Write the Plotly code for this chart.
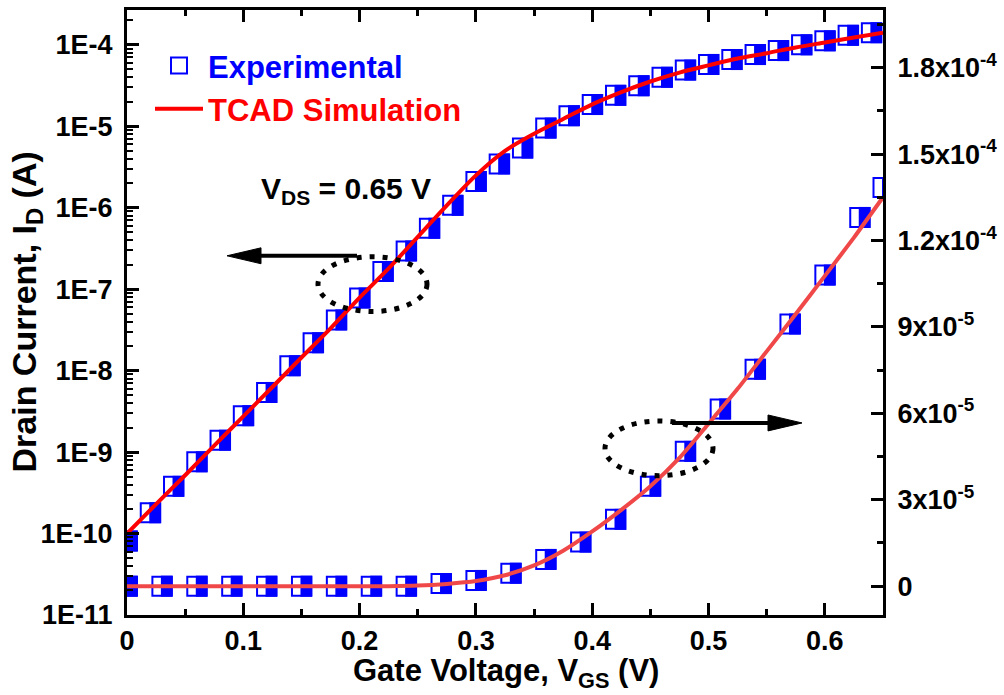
import plotly.graph_objects as go

# ---------------- data ----------------
VGS_EXP_LOG = [0.00, 0.02, 0.04, 0.06, 0.08, 0.10, 0.12, 0.14, 0.16, 0.18, 0.20,
               0.22, 0.24, 0.26, 0.28, 0.30, 0.32, 0.34, 0.36, 0.38, 0.40, 0.42,
               0.44, 0.46, 0.48, 0.50, 0.52, 0.54, 0.56, 0.58, 0.60, 0.62, 0.64]
ID_EXP_LOG = [8.1e-11, 1.8e-10, 3.8e-10, 7.6e-10, 1.4e-9, 2.8e-9, 5.4e-9, 1.15e-8,
              2.2e-8, 4.2e-8, 7.8e-8, 1.65e-7, 2.95e-7, 5.6e-7, 1.07e-6, 2.1e-6,
              3.45e-6, 5.4e-6, 9.5e-6, 1.35e-5, 1.85e-5, 2.4e-5, 3.15e-5, 4.0e-5,
              4.9e-5, 5.75e-5, 6.6e-5, 7.6e-5, 8.5e-5, 1.0e-4, 1.12e-4, 1.31e-4, 1.41e-4]

VGS_EXP_LIN = [0.00, 0.03, 0.06, 0.09, 0.12, 0.15, 0.18, 0.21, 0.24, 0.27, 0.30,
               0.33, 0.36, 0.39, 0.42, 0.45, 0.48, 0.51, 0.54, 0.57, 0.60, 0.63, 0.65]
ID_EXP_LIN = [0, 0, 0, 0, 0, 0, 0, 0, 0, 9e-7, 2.0e-6, 4.5e-6, 9.3e-6, 1.53e-5,
              2.32e-5, 3.47e-5, 4.68e-5, 6.15e-5, 7.53e-5, 9.1e-5, 1.08e-4, 1.28e-4, 1.384e-4]

VGS_SIM = [0.000, 0.025, 0.050, 0.075, 0.100, 0.125, 0.150, 0.175, 0.200, 0.225,
           0.250, 0.275, 0.300, 0.325, 0.350, 0.375, 0.400, 0.425, 0.450, 0.475,
           0.500, 0.525, 0.550, 0.575, 0.600, 0.625, 0.650]
ID_SIM_LOG = [1.0e-10, 2.3e-10, 5.2e-10, 1.2e-9, 2.75e-9, 6.3e-9, 1.45e-8, 3.3e-8,
              7.9e-8, 1.8e-7, 4.4e-7, 1.07e-6, 2.5e-6, 5.0e-6, 8.1e-6, 1.23e-5,
              1.86e-5, 2.63e-5, 3.55e-5, 4.57e-5, 5.6e-5, 6.8e-5, 7.9e-5, 9.3e-5,
              1.07e-4, 1.23e-4, 1.41e-4]
ID_SIM_LIN = [0, 0, 0, 0, 0, 0, 0, 0, 0, 0, 2e-7, 8e-7, 1.8e-6, 3.8e-6, 7.2e-6,
              1.23e-5, 1.9e-5, 2.65e-5, 3.47e-5, 4.45e-5, 5.64e-5, 6.85e-5, 8.15e-5,
              9.45e-5, 1.077e-4, 1.21e-4, 1.35e-4]

X_TICKS = [0, 0.1, 0.2, 0.3, 0.4, 0.5, 0.6]
X_TICKTEXT = ["0", "0.1", "0.2", "0.3", "0.4", "0.5", "0.6"]
Y_TICKS = [1e-11, 1e-10, 1e-9, 1e-8, 1e-7, 1e-6, 1e-5, 1e-4]
Y_TICKTEXT = ["1E-11", "1E-10", "1E-9", "1E-8", "1E-7", "1E-6", "1E-5", "1E-4"]
Y2_TICKS = [0, 3e-5, 6e-5, 9e-5, 1.2e-4, 1.5e-4, 1.8e-4]
Y2_TICKTEXT = ["0", "3x10<sup>-5</sup>", "6x10<sup>-5</sup>", "9x10<sup>-5</sup>",
               "1.2x10<sup>-4</sup>", "1.5x10<sup>-4</sup>", "1.8x10<sup>-4</sup>"]
Y2_MINOR = [1.5e-5, 4.5e-5, 7.5e-5, 1.05e-4, 1.35e-4, 1.65e-4, 1.95e-4]

# ---------------- style / layout ----------------
FONT = "Liberation Sans, Arial, Helvetica, sans-serif"
BLUE = "#0000ff"
RED = "#ff0000"
RED2 = "#f04848"
W, H = 1004, 695
L, R, T, B = 127, 121, 7, 80
PW, PH = W - L - R, H - T - B
X_RANGE = [0, 0.65]
Y_RANGE = [-11, -3.572]
Y2_RANGE = [-1.0e-5, 2.0e-4]
SHIFT = 5.0 / PW * (X_RANGE[1] - X_RANGE[0])


def px(x):
    return (x - L) / PW


def py(y):
    return (H - B - y) / PH


Y_MINOR = [k * 10.0 ** e for e in range(-11, -3) for k in range(2, 10)]

sq_marker = dict(symbol="square-open", size=19, color=BLUE, line=dict(width=2, color=BLUE))
half_marker = dict(symbol="line-ns-open", size=15, color=BLUE, line=dict(width=12, color=BLUE))

fig = go.Figure()
fig.add_trace(go.Scatter(x=VGS_EXP_LOG, y=ID_EXP_LOG, mode="markers", xaxis="x", yaxis="y",
                         name='<span style="color:#0000ff">Experimental</span>', marker=sq_marker))
fig.add_trace(go.Scatter(x=VGS_EXP_LIN, y=ID_EXP_LIN, mode="markers", xaxis="x", yaxis="y2",
                         showlegend=False, marker=sq_marker))
fig.add_trace(go.Scatter(x=VGS_EXP_LOG, y=ID_EXP_LOG, mode="markers", xaxis="x2", yaxis="y",
                         showlegend=False, marker=half_marker))
fig.add_trace(go.Scatter(x=VGS_EXP_LIN, y=ID_EXP_LIN, mode="markers", xaxis="x2", yaxis="y2",
                         showlegend=False, marker=half_marker))
fig.add_trace(go.Scatter(x=VGS_SIM, y=ID_SIM_LOG, mode="lines", xaxis="x3", yaxis="y",
                         name='<span style="color:#ff0000">TCAD Simulation</span>',
                         line=dict(color=RED, width=4, shape="spline", smoothing=0.8)))
fig.add_trace(go.Scatter(x=VGS_SIM, y=ID_SIM_LIN, mode="lines", xaxis="x3", yaxis="y2",
                         showlegend=False,
                         line=dict(color=RED2, width=4, shape="spline", smoothing=0.6)))

tickfont = dict(family=FONT, size=27, color="black", weight="bold")
common = dict(showline=True, linecolor="black", linewidth=3, ticks="inside", ticklen=12,
              tickwidth=3, tickcolor="black", showgrid=False, zeroline=False, tickfont=tickfont)

fig.update_layout(
    width=W, height=H, autosize=False,
    margin=dict(l=L, r=R, t=T, b=B, pad=0),
    paper_bgcolor="white", plot_bgcolor="white",
    xaxis=dict(range=X_RANGE, tickmode="array", tickvals=X_TICKS, ticktext=X_TICKTEXT,
               mirror="ticks", anchor="y",
               minor=dict(ticks="inside", ticklen=6, tickwidth=3, tickcolor="black",
                          tickmode="linear", tick0=0, dtick=0.05, showgrid=False),
               **common),
    xaxis2=dict(overlaying="x", range=[X_RANGE[0] - SHIFT, X_RANGE[1] - SHIFT], visible=False),
    xaxis3=dict(overlaying="x", range=X_RANGE, visible=False),
    yaxis=dict(type="log", range=Y_RANGE, tickmode="array", tickvals=Y_TICKS,
               ticktext=Y_TICKTEXT, anchor="x", ticklabelstandoff=6,
               minor=dict(ticks="inside", ticklen=6, tickwidth=2, tickcolor="black",
                          tickmode="array", tickvals=Y_MINOR, showgrid=False),
               **common),
    yaxis2=dict(overlaying="y", side="right", range=Y2_RANGE, tickmode="array",
                tickvals=Y2_TICKS, ticktext=Y2_TICKTEXT, anchor="x", ticklabelstandoff=6,
                minor=dict(ticks="inside", ticklen=6, tickwidth=3, tickcolor="black",
                           tickmode="array", tickvals=Y2_MINOR, showgrid=False),
                **common),
    legend=dict(x=px(150), y=py(36), xanchor="left", yanchor="top",
                bgcolor="rgba(0,0,0,0)", font=dict(family=FONT, size=31, weight="bold"),
                itemwidth=48, tracegroupgap=0),
    showlegend=True,
)

fig.add_annotation(x=px(26), y=py(311), xref="paper", yref="paper", showarrow=False,
                   text="Drain Current, I<sub>D</sub> (A)", textangle=-90,
                   xanchor="center", yanchor="middle",
                   font=dict(family=FONT, size=34, color="black", weight="bold"))
fig.add_annotation(x=px(506), y=py(694), xref="paper", yref="paper", showarrow=False,
                   text="Gate Voltage, V<sub>GS</sub> (V)",
                   xanchor="center", yanchor="bottom", borderpad=0,
                   font=dict(family=FONT, size=31, color="black", weight="bold"))
fig.add_annotation(x=px(346), y=py(188), xref="paper", yref="paper", showarrow=False,
                   text="V<sub>DS</sub> = 0.65 V",
                   xanchor="center", yanchor="middle",
                   font=dict(family=FONT, size=30, color="black", weight="bold"))

# arrows and dotted ellipses (decorations)
fig.add_shape(type="line", xref="paper", yref="paper", x0=px(357), x1=px(255),
              y0=py(254), y1=py(254), line=dict(color="black", width=4))
fig.add_shape(type="path", xref="paper", yref="paper",
              path=f"M {px(227)} {py(254)} L {px(261)} {py(246)} L {px(261)} {py(262)} Z",
              fillcolor="black", line=dict(color="black", width=1))
fig.add_shape(type="line", xref="paper", yref="paper", x0=px(672), x1=px(772),
              y0=py(422), y1=py(422), line=dict(color="black", width=4))
fig.add_shape(type="path", xref="paper", yref="paper",
              path=f"M {px(802)} {py(422)} L {px(768)} {py(414)} L {px(768)} {py(430)} Z",
              fillcolor="black", line=dict(color="black", width=1))
fig.add_shape(type="circle", xref="paper", yref="paper", x0=px(318), x1=px(427),
              y0=py(310), y1=py(255), line=dict(color="black", width=5, dash="5px,8px"))
fig.add_shape(type="circle", xref="paper", yref="paper", x0=px(605), x1=px(713),
              y0=py(475), y1=py(420), line=dict(color="black", width=5, dash="5px,8px"))

fig.write_html("out.html", config={"displayModeBar": False},
               post_script="document.body.style.margin='0px';document.body.style.padding='0px';")
